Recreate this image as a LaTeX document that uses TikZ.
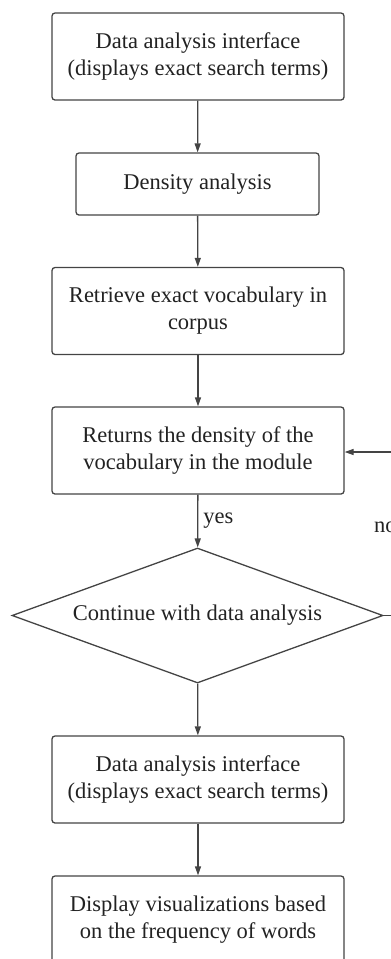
\documentclass[tikz,border=0pt]{standalone}
\usepackage{fontspec}
\setmainfont{Liberation Serif}
\usetikzlibrary{arrows.meta,shapes.geometric}
\definecolor{linec}{HTML}{444444}
\definecolor{textc}{HTML}{222222}
\tikzset{
  stepbox/.style={draw=linec, line width=1.3pt, rounded corners=3pt, minimum width=292pt, minimum height=87pt, inner sep=0pt, align=center, text=textc, font=\fontsize{22.5}{27}\selectfont},
  decbox/.style={draw=linec, line width=1.3pt, shape=diamond, aspect=2.75, minimum width=371pt, minimum height=135pt, inner sep=0pt, text=textc, font=\fontsize{22.5}{27}\selectfont},
  conn/.style={draw=linec, line width=1.3pt, -{Triangle[length=9pt,width=6pt]}},
  lbl/.style={text=textc, font=\fontsize{22.5}{27}\selectfont, inner sep=0pt}
}
\begin{document}
\begin{tikzpicture}[x=1pt,y=-1pt]
\useasboundingbox (0,0) rectangle (391,959);
\clip (0,0) rectangle (391,959);
\node[stepbox] (b1) at (198,56.5) {Data analysis interface\\(displays exact search terms)};
\node[stepbox, minimum width=243pt, minimum height=62pt] (b2) at (197.5,184) {Density analysis};
\node[stepbox] (b3) at (198,311) {Retrieve exact vocabulary in\\corpus};
\node[stepbox] (b4) at (198,450.5) {Returns the density of the\\vocabulary in the module};
\node[decbox] (d) at (197.5,615.5) {Continue with data analysis};
\node[stepbox] (b5) at (198,779.5) {Data analysis interface\\(displays exact search terms)};
\node[stepbox] (b6) at (198,919.5) {Display visualizations based\\on the frequency of words};
\coordinate (r1) at (410,615.5);
\coordinate (r2) at (410,452);
\draw[conn] (b1) -- (b2);
\draw[conn] (b2) -- (b3);
\draw[conn] (b3) -- (b4);
\draw[conn] (b4) -- node[lbl, right=5pt, pos=0.5] (yes) {yes} (d);
\draw[conn] (d) -- (b5);
\draw[conn] (b5) -- (b6);
\draw[conn] (d.east) -- (r1) -- (r2) -- (b4.east |- r2);
\node[lbl, anchor=west] (no) at (374,527) {no};
\end{tikzpicture}
\end{document}
